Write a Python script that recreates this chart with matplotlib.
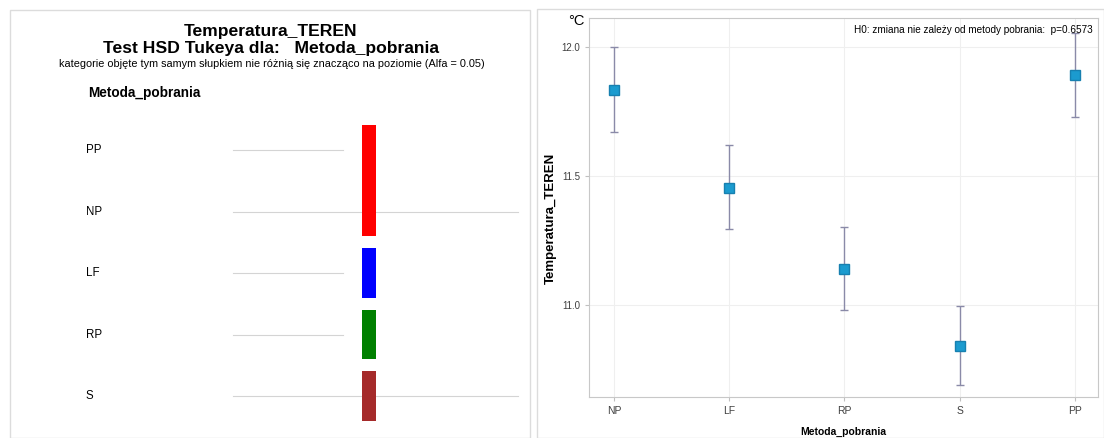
import matplotlib
matplotlib.use("Agg")
import matplotlib.pyplot as plt
from matplotlib.patches import Rectangle

# right panel: means with confidence intervals
methods = ["NP", "LF", "RP", "S", "PP"]
means = [11.833, 11.453, 11.140, 10.840, 11.891]
lower = [11.669, 11.294, 10.981, 10.689, 11.728]
upper = [12.000, 11.619, 11.300, 10.996, 12.054]
p_value = 0.6573

# left panel: Tukey HSD homogeneous groups
rows = ["PP", "NP", "LF", "RP", "S"]
groups = [["PP", "NP"], ["LF"], ["RP"], ["S"]]
group_colors = ["#ff0000", "#0000ff", "#008000", "#a52a2a"]

plt.rcParams["font.family"] = ["Liberation Sans", "DejaVu Sans"]

fig = plt.figure(figsize=(11.04, 4.38), dpi=100)
W, H = 1104, 438

# panel frames
fig.patches.append(Rectangle((10 / W, 0), 520 / W, 1 - 10 / H, transform=fig.transFigure,
                             fill=False, edgecolor="#dcdcdc", lw=1))
fig.patches.append(Rectangle((537 / W, 0), 567 / W, 1 - 9 / H, transform=fig.transFigure,
                             fill=False, edgecolor="#dcdcdc", lw=1))

# ---- left panel ----
fig.text(271 / W, 1 - 31.5 / H, "Temperatura_TEREN", ha="center", va="center",
         fontsize=12.6, fontweight="bold")
fig.text(271 / W, 1 - 48.5 / H, "Test HSD Tukeya dla:   Metoda_pobrania", ha="center",
         va="center", fontsize=12.6, fontweight="bold")
fig.text(272 / W, 1 - 64 / H,
         "kategorie objęte tym samym słupkiem nie różnią się znacząco na poziomie (Alfa = 0.05)",
         ha="center", va="center", fontsize=7.8)
fig.text(88 / W, 1 - 93 / H, "Metoda_pobrania", ha="left", va="center",
         fontsize=9.8, fontweight="bold")

axl = fig.add_axes([0, 5 / H, 540 / W, 1 - 107 / H - 5 / H])
axl.set_xlim(0, 540)
axl.set_ylim(len(rows) - 1 + 0.6, -0.7)
axl.axis("off")
for i, r in enumerate(rows):
    axl.text(86, i, r, ha="left", va="center", fontsize=8.3)
    end = 518 if r in ("NP", "S") else 343
    axl.plot([233, end], [i, i], color="#d4d4d4", lw=0.8, zorder=1)
for g, c in zip(groups, group_colors):
    idx = [rows.index(m) for m in g]
    lo, hi = min(idx) - 0.4, max(idx) + 0.4
    axl.bar(369, hi - lo, bottom=lo, width=14, color=c, zorder=2)

# ---- right panel ----
ax = fig.add_axes([589 / W, (H - 397) / H, 509 / W, 379 / H])
x = list(range(len(methods)))
yerr = [[m - l for m, l in zip(means, lower)], [u - m for m, u in zip(means, upper)]]
ax.errorbar(x, means, yerr=yerr, fmt="s", color="#1b9bcf", markeredgecolor="#1780b0",
            markersize=7, ecolor="#8a8aa8", elinewidth=1, capsize=2.7, capthick=1, zorder=3)
ax.set_xlim(-0.217, 4.2)
ax.set_ylim(10.642, 12.113)
ax.set_xticks(x)
ax.set_xticklabels(methods, fontsize=7.5)
ax.set_yticks([11.0, 11.5, 12.0])
ax.set_yticklabels(["11.0", "11.5", "12.0"], fontsize=7)
ax.tick_params(colors="#404040", length=3, color="#c0c0c0")
for s in ax.spines.values():
    s.set_color("#c8c8c8")
ax.grid(True, color="#efefef", lw=0.8)
ax.set_axisbelow(True)
ax.set_xlabel("Metoda_pobrania", fontsize=7.5, fontweight="bold", labelpad=8)
ax.set_ylabel("Temperatura_TEREN", fontsize=9.5, fontweight="bold")
ax.yaxis.set_label_coords(-0.063, 0.47)
ax.text(0.99, 0.968, "H0: zmiana nie zależy od metody pobrania:  p=%.4f" % p_value,
        transform=ax.transAxes, ha="right", va="center", fontsize=7.2)
fig.text(576 / W, 1 - 21 / H, "°C", ha="center", va="center", fontsize=10.5)

plt.savefig("out.png", dpi=100)
